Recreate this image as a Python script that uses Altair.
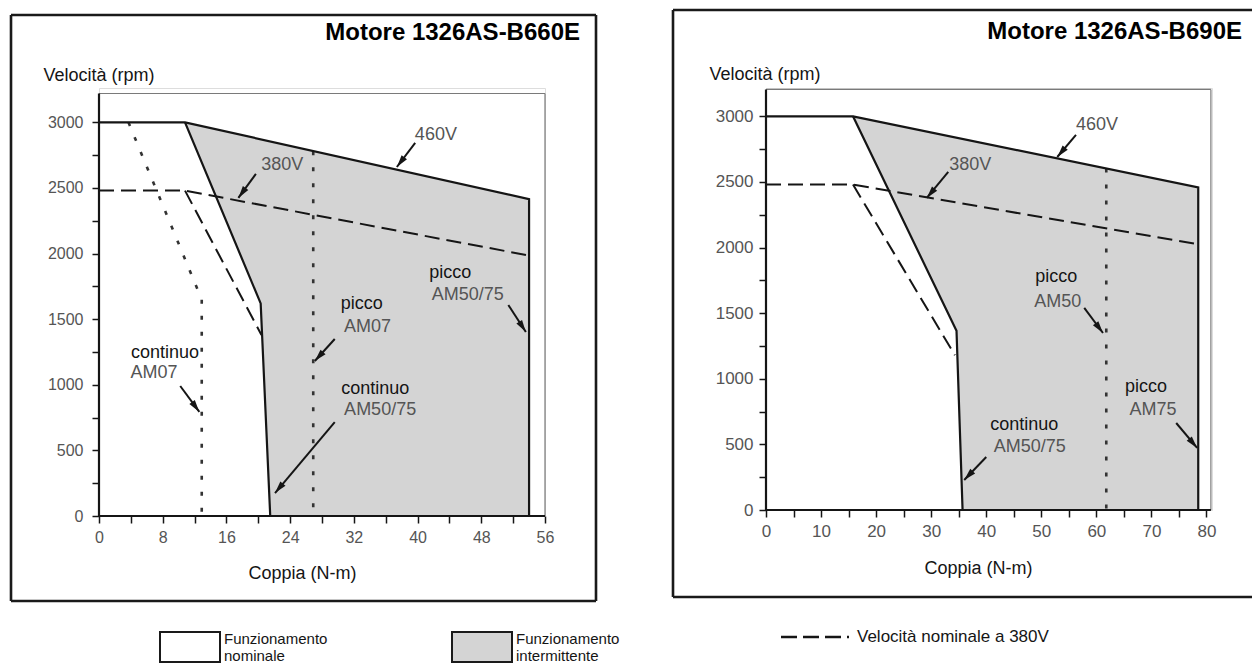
import math
import altair as alt
import pandas as pd

FONT = "Liberation Sans"
GRAYFILL = "#d4d4d4"
INK = "#151515"
LABEL_GRAY = "#555555"

# ---------------- Motore 1326AS-B660E (left panel) ----------------
L_TITLE = "Motore 1326AS-B660E"
L_460_X = [0, 10.8, 54.0, 54.0]          # 460V envelope (solid)
L_460_Y = [3000, 3000, 2415, 0]
L_LIM_X = [10.8, 20.3, 21.5]              # continuous limit AM50/75 (solid)
L_LIM_Y = [3000, 1620, 0]
L_380_X = [0, 10.8, 54.0]                 # 380V (dashed)
L_380_Y = [2480, 2480, 1985]
L_380B_X = [10.8, 20.4]                   # 380V branch (dashed)
L_380B_Y = [2480, 1380]
L_DOT_X = [[3.7, 12.9, 12.9], [26.9, 26.9]]   # continuo AM07, picco AM07 (dotted)
L_DOT_Y = [[3000, 1650, 0], [2780, 0]]
L_BOX = [56, 3220]
L_BLACK_TXT = ["continuo", "picco", "continuo", "picco"]
L_BLACK_X = [8.3, 33.0, 34.7, 44.1]
L_BLACK_Y = [1242, 1616, 968, 1852]
L_GRAY_TXT = ["460V", "380V", "AM07", "AM07", "AM50/75", "AM50/75"]
L_GRAY_X = [42.3, 23.0, 6.9, 33.7, 35.3, 46.3]
L_GRAY_Y = [2904, 2675, 1090, 1440, 808, 1684]
L_ARR_TX = [39.7, 19.7, 51.4, 29.6, 10.2, 29.6]
L_ARR_TY = [2843, 2607, 1608, 1349, 991, 716]
L_ARR_HX = [37.4, 17.5, 53.6, 27.1, 12.6, 22.1]
L_ARR_HY = [2660, 2424, 1402, 1181, 793, 175]
L_XTICKS = list(range(0, 57, 4))

# ---------------- Motore 1326AS-B690E (right panel) ----------------
R_TITLE = "Motore 1326AS-B690E"
R_460_X = [0, 15.8, 78.5, 78.5]
R_460_Y = [3000, 3000, 2458, 0]
R_LIM_X = [15.8, 34.6, 35.7]
R_LIM_Y = [3000, 1365, 0]
R_380_X = [0, 15.8, 78.5]
R_380_Y = [2480, 2480, 2025]
R_380B_X = [15.8, 34.3]
R_380B_Y = [2480, 1180]
R_DOT_X = [[61.8, 61.8]]                  # picco AM50
R_DOT_Y = [[2602, 0]]
R_BOX = [80.8, 3205]
R_BLACK_TXT = ["picco", "picco", "continuo"]
R_BLACK_X = [52.7, 69.0, 46.9]
R_BLACK_Y = [1776, 938, 648]
R_GRAY_TXT = ["460V", "380V", "AM50", "AM75", "AM50/75"]
R_GRAY_X = [60.1, 37.1, 53.0, 70.3, 47.9]
R_GRAY_Y = [2934, 2630, 1585, 762, 480]
R_ARR_TX = [56.3, 33.1, 57.8, 74.5, 40.0]
R_ARR_TY = [2858, 2576, 1540, 663, 404]
R_ARR_HX = [52.9, 29.2, 61.2, 78.3, 36.0]
R_ARR_HY = [2690, 2378, 1349, 473, 229]
R_XTICKS = list(range(0, 81, 5))

Y_TICKS = list(range(0, 3001, 250))

LEGEND_1 = ["Funzionamento", "nominale"]
LEGEND_2 = ["Funzionamento", "intermittente"]
LEGEND_3 = "Velocità nominale a 380V"

ARROW = "M0,0 L-0.55,2 L0.55,2 Z"
ONE = pd.DataFrame({"a": [0]})


def line_df(xs, ys):
    return pd.DataFrame({"x": xs, "y": ys, "i": list(range(len(xs)))})


def panel(cfg):
    W, H = cfg["W"], cfg["H"]
    xs = alt.Scale(domain=[0, cfg["XD"]], nice=False, zero=False)
    ys = alt.Scale(domain=[0, cfg["YD"]], nice=False, zero=False)
    xax = alt.Axis(values=cfg["xticks"], labelExpr=cfg["xlabel_expr"], format="d",
                   title="Coppia (N-m)", titleX=cfg["xtitle"][0], titleY=cfg["xtitle"][1],
                   titleAlign="center", titleBaseline="middle", titleFontSize=18,
                   titleFontWeight="normal", titleColor=INK, titleFont=FONT,
                   labelFont=FONT, labelFontSize=cfg["lfs"], labelColor=LABEL_GRAY,
                   labelPadding=cfg["xpad"], tickSize=7, tickWidth=1.5, tickColor=INK,
                   domain=False, grid=False, labelFlush=False, labelOverlap=False)
    yax = alt.Axis(values=Y_TICKS, labelExpr="datum.value % 500 == 0 ? datum.label : ''",
                   format="d", title="Velocità (rpm)", titleAngle=0,
                   titleX=cfg["ytitle"][0], titleY=cfg["ytitle"][1], titleAlign="left",
                   titleBaseline="middle", titleFontSize=18, titleFontWeight="normal",
                   titleColor=INK, titleFont=FONT, labelFont=FONT, labelFontSize=cfg["lfs"],
                   labelColor=LABEL_GRAY, labelPadding=cfg["ypad"], tickSize=7, tickWidth=1.5,
                   tickColor=INK, domain=False, grid=False, labelOverlap=False)
    X = alt.X("x:Q", scale=xs, axis=xax)
    Y = alt.Y("y:Q", scale=ys, axis=yax)
    sx, sy = W / cfg["XD"], H / cfg["YD"]

    layers = []
    # intermittent (gray) region under 460V envelope, minus nominal region
    env_x, env_y = cfg["e460"]
    lim_x, lim_y = cfg["lim"]
    gray = line_df([lim_x[0], env_x[2]], [env_y[1], env_y[2]])
    layers.append(alt.Chart(gray).mark_area(color=GRAYFILL, opacity=1)
                  .encode(x=X, y=Y, y2=alt.datum(0)))
    layers.append(alt.Chart(line_df(lim_x, lim_y)).mark_area(color="white", opacity=1)
                  .encode(x=X, y=Y, y2=alt.datum(0)))
    # plot box (top / right, thin gray)
    bx, by = cfg["box"]
    box = pd.DataFrame({"x": [0, bx], "x2": [bx, bx], "y": [by, 0], "y2": [by, by]})
    layers.append(alt.Chart(box).mark_rule(color="#7a7a7a", strokeWidth=1.2)
                  .encode(x=X, x2="x2:Q", y=Y, y2="y2:Q"))
    # dotted lines
    for dx_, dy_ in zip(*cfg["dots"]):
        layers.append(alt.Chart(line_df(dx_, dy_))
                      .mark_line(color="#333333", strokeWidth=2.6, strokeDash=[4, 12])
                      .encode(x=X, y=Y, order="i:Q"))
    # dashed 380V
    for xx, yy in [cfg["l380"], cfg["l380b"]]:
        layers.append(alt.Chart(line_df(xx, yy))
                      .mark_line(color=INK, strokeWidth=2, strokeDash=[15, 7])
                      .encode(x=X, y=Y, order="i:Q"))
    # solid lines
    for xx, yy in [cfg["e460"], cfg["lim"]]:
        layers.append(alt.Chart(line_df(xx, yy))
                      .mark_line(color=INK, strokeWidth=2.2)
                      .encode(x=X, y=Y, order="i:Q"))
    # axis lines (left / bottom)
    ax = pd.DataFrame({"x": [0, 0], "x2": [bx, 0], "y": [0, 0], "y2": [0, by]})
    layers.append(alt.Chart(ax).mark_rule(color=INK, strokeWidth=2.2)
                  .encode(x=X, x2="x2:Q", y=Y, y2="y2:Q"))
    # arrows
    tx, ty, hx, hy = cfg["arrows"]
    ang = [math.degrees(math.atan2((c - a) * sx, (d - b) * sy)) % 360
           for a, b, c, d in zip(tx, ty, hx, hy)]
    arr = pd.DataFrame({"x": tx, "y": ty, "x2": hx, "y2": hy, "ang": ang})
    layers.append(alt.Chart(arr).mark_rule(color=INK, strokeWidth=2)
                  .encode(x=X, y=Y, x2="x2:Q", y2="y2:Q"))
    heads = pd.DataFrame({"x": hx, "y": hy, "ang": ang})
    layers.append(alt.Chart(heads).mark_point(shape=ARROW, filled=True, color=INK,
                                              size=150, opacity=1)
                  .encode(x=X, y=Y, angle=alt.Angle("ang:Q", scale=None)))
    # annotation labels
    bt, bxs, bys = cfg["black"]
    layers.append(alt.Chart(pd.DataFrame({"t": bt, "x": bxs, "y": bys}))
                  .mark_text(font=FONT, fontSize=18, color=INK, align="center",
                             baseline="middle")
                  .encode(x=X, y=Y, text="t:N"))
    gt, gxs, gys = cfg["gray"]
    layers.append(alt.Chart(pd.DataFrame({"t": gt, "x": gxs, "y": gys}))
                  .mark_text(font=FONT, fontSize=18, color=LABEL_GRAY, align="center",
                             baseline="middle")
                  .encode(x=X, y=Y, text="t:N"))
    # panel title
    layers.append(alt.Chart(ONE).mark_text(text=cfg["title"], font=FONT, fontSize=24,
                                           fontWeight="bold", color="black", align="right",
                                           baseline="middle")
                  .encode(x=alt.value(cfg["tpos"][0]), y=alt.value(cfg["tpos"][1])))
    layers.extend(cfg["decor"])
    return alt.layer(*layers).properties(width=W, height=H)


def frame_rules(x1, x2, y1, y2, sides):
    out = []
    for s in sides:
        if s == "top":
            enc = dict(x=alt.value(x1), x2=alt.value(x2), y=alt.value(y1))
        elif s == "bottom":
            enc = dict(x=alt.value(x1), x2=alt.value(x2), y=alt.value(y2))
        elif s == "left":
            enc = dict(x=alt.value(x1), y=alt.value(y1), y2=alt.value(y2))
        else:
            enc = dict(x=alt.value(x2), y=alt.value(y1), y2=alt.value(y2))
        out.append(alt.Chart(ONE).mark_rule(color="#1a1a1a", strokeWidth=2.6).encode(**enc))
    return out


left_decor = frame_rules(-88, 497, -73, 513, ["top", "bottom", "left", "right"])
for bx0, fill, txt in [(61, "white", LEGEND_1), (353, GRAYFILL, LEGEND_2)]:
    left_decor.append(alt.Chart(ONE).mark_rect(color=fill, stroke="#1a1a1a", strokeWidth=2)
                      .encode(x=alt.value(bx0), x2=alt.value(bx0 + 60),
                              y=alt.value(544), y2=alt.value(574)))
    left_decor.append(alt.Chart(ONE).mark_text(text=txt, font=FONT, fontSize=15, color=INK,
                                               align="left", baseline="alphabetic",
                                               lineHeight=16.5)
                      .encode(x=alt.value(bx0 + 64), y=alt.value(556)))

right_decor = frame_rules(-93, 486, -78, 509, ["top", "bottom", "left"])
right_decor.append(alt.Chart(ONE).mark_rule(color=INK, strokeWidth=2.6, strokeDash=[16, 6])
                   .encode(x=alt.value(15), x2=alt.value(83), y=alt.value(549)))
right_decor.append(alt.Chart(ONE).mark_text(text=LEGEND_3, font=FONT, fontSize=17, color=INK,
                                            align="left", baseline="middle")
                   .encode(x=alt.value(91), y=alt.value(549)))

left_cfg = dict(
    W=446, H=428, XD=56, YD=3262, xticks=L_XTICKS,
    xlabel_expr="datum.value % 8 == 0 ? datum.label : ''",
    xtitle=(203, 57), ytitle=(-56, -13), lfs=16, xpad=6, ypad=9,
    e460=(L_460_X, L_460_Y), lim=(L_LIM_X, L_LIM_Y), l380=(L_380_X, L_380_Y),
    l380b=(L_380B_X, L_380B_Y), dots=(L_DOT_X, L_DOT_Y), box=L_BOX,
    arrows=(L_ARR_TX, L_ARR_TY, L_ARR_HX, L_ARR_HY),
    black=(L_BLACK_TXT, L_BLACK_X, L_BLACK_Y), gray=(L_GRAY_TXT, L_GRAY_X, L_GRAY_Y),
    title=L_TITLE, tpos=(481, -55), decor=left_decor,
)
right_cfg = dict(
    W=446, H=422, XD=81, YD=3216, xticks=R_XTICKS,
    xlabel_expr="datum.value % 10 == 0 ? datum.label : ''",
    xtitle=(212, 58), ytitle=(-57, -14), lfs=17, xpad=6, ypad=6,
    e460=(R_460_X, R_460_Y), lim=(R_LIM_X, R_LIM_Y), l380=(R_380_X, R_380_Y),
    l380b=(R_380B_X, R_380B_Y), dots=(R_DOT_X, R_DOT_Y), box=R_BOX,
    arrows=(R_ARR_TX, R_ARR_TY, R_ARR_HX, R_ARR_HY),
    black=(R_BLACK_TXT, R_BLACK_X, R_BLACK_Y), gray=(R_GRAY_TXT, R_GRAY_X, R_GRAY_Y),
    title=R_TITLE, tpos=(476, -56), decor=right_decor,
)

chart = alt.hconcat(
    panel(left_cfg), panel(right_cfg), spacing=221, bounds="flush",
    padding={"left": 9, "top": 8, "right": 0, "bottom": 0},
    background="white",
).configure_view(stroke=None).configure(font=FONT)

chart.save("out.html", embed_options={"renderer": "svg", "actions": False})
